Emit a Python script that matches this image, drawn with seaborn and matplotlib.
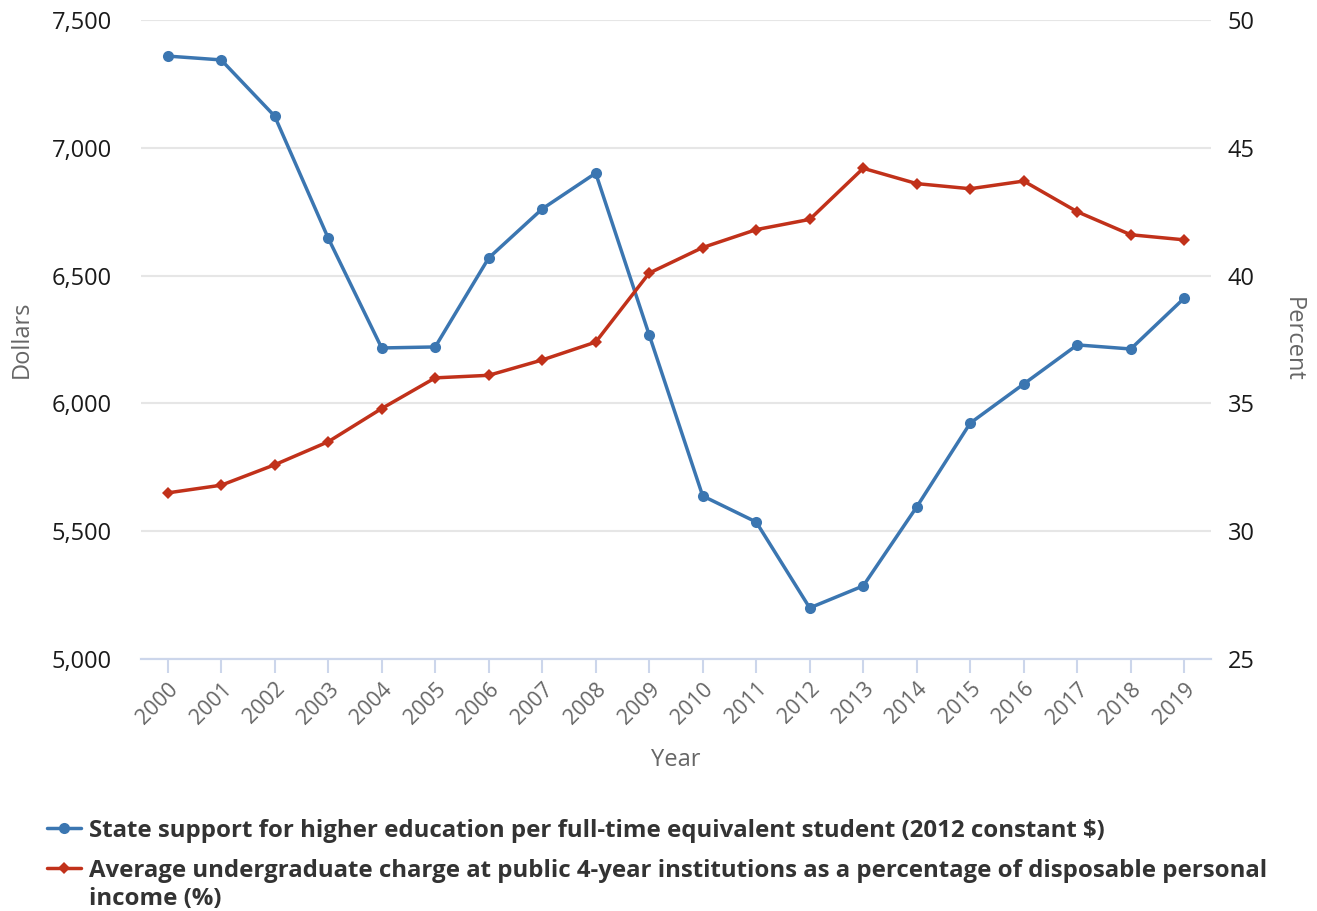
import pandas as pd
import numpy as np
import matplotlib.pyplot as plt
import seaborn as sns
from matplotlib.legend_handler import HandlerLine2D

# Data
years = [str(y) for y in range(2000, 2020)]
state_support = [7359, 7344, 7124, 6647, 6217, 6221, 6569, 6761, 6901, 6268,
                 5638, 5536, 5200, 5286, 5595, 5923, 6076, 6229, 6213, 6412]
charge_pct = [31.5, 31.8, 32.6, 33.5, 34.8, 36.0, 36.1, 36.7, 37.4, 40.1,
              41.1, 41.8, 42.2, 44.2, 43.6, 43.4, 43.7, 42.5, 41.6, 41.4]

blue_label = "State support for higher education per full-time equivalent student (2012 constant $)"
red_label = ("Average undergraduate charge at public 4-year institutions as a percentage of disposable personal\n"
             "income (%)")

df = pd.DataFrame({"year": years, "support": state_support, "charge": charge_pct})
df["pos"] = np.arange(len(df))


# legend handle that sits on the first line of a wrapped label
class FirstLineHandler(HandlerLine2D):
    def __init__(self, shift, **kw):
        super().__init__(**kw)
        self.shift = shift

    def create_artists(self, legend, orig_handle, xdescent, ydescent, width, height, fontsize, trans):
        artists = super().create_artists(legend, orig_handle, xdescent, ydescent, width, height, fontsize, trans)
        for a in artists:
            a.set_ydata(np.asarray(a.get_ydata()) + self.shift)
        return artists


sns.set_theme(style="white")
plt.rcParams["font.family"] = ["Open Sans", "DejaVu Sans"]

blue = "#3b76b1"
red = "#c1311a"

fig = plt.figure(figsize=(13.17, 9.11), dpi=100)
ax = fig.add_axes([0.107, 0.2766, 0.8125, 0.7014])
ax2 = ax.twinx()

sns.lineplot(data=df, x="pos", y="support", ax=ax, color=blue, linewidth=2.5,
             marker="o", markersize=8, markeredgewidth=0, label=blue_label, legend=False, zorder=3)
sns.lineplot(data=df, x="pos", y="charge", ax=ax2, color=red, linewidth=2.5,
             marker="D", markersize=6.5, markeredgewidth=0, label=red_label, legend=False, zorder=3)

ax.set_xlim(-0.5, len(years) - 0.5)
ax.set_ylim(5000, 7500)
ax2.set_ylim(25, 50)
ax.set_yticks([5000, 5500, 6000, 6500, 7000, 7500])
ax.set_yticklabels([f"{v:,}" for v in [5000, 5500, 6000, 6500, 7000, 7500]])
ax2.set_yticks([25, 30, 35, 40, 45, 50])

ax.set_xticks(df["pos"])
ax.set_xticklabels(years, rotation=45, ha="right", rotation_mode="anchor", color="#666666", fontsize=15.5)

ax.yaxis.grid(True, color="#e6e6e6", linewidth=1.5)
ax.set_axisbelow(True)
for a in (ax, ax2):
    for s in ["left", "right", "top"]:
        a.spines[s].set_visible(False)
    a.spines["bottom"].set_color("#ccd6eb")
    a.spines["bottom"].set_linewidth(1.5)
    a.tick_params(axis="y", length=0, labelsize=17, labelcolor="#1a1a1a")
ax.tick_params(axis="y", pad=21)
ax2.tick_params(axis="y", pad=12)
ax.tick_params(axis="x", length=10, width=1.5, color="#ccd6eb", bottom=True, pad=4)

ax.set_xlabel("Year", fontsize=17, color="#666666", labelpad=14)
ax.set_ylabel("Dollars", fontsize=17, color="#666666", labelpad=13)
ax2.set_ylabel("Percent", fontsize=17, color="#666666", rotation=270, labelpad=36)

h1, l1 = ax.get_legend_handles_labels()
h2, l2 = ax2.get_legend_handles_labels()
leg = fig.legend(h1 + h2, l1 + l2, loc="upper left", bbox_to_anchor=(0.0287, 0.112),
                 frameon=False, prop={"weight": "bold", "size": 17.3}, handlelength=1.4,
                 handletextpad=0.35, labelspacing=0.7, borderaxespad=0,
                 handler_map={h2[0]: FirstLineHandler(shift=13)})
for t in leg.get_texts():
    t.set_color("#333333")
    t.set_linespacing(1.2)

fig.savefig("out.png", dpi=100)
